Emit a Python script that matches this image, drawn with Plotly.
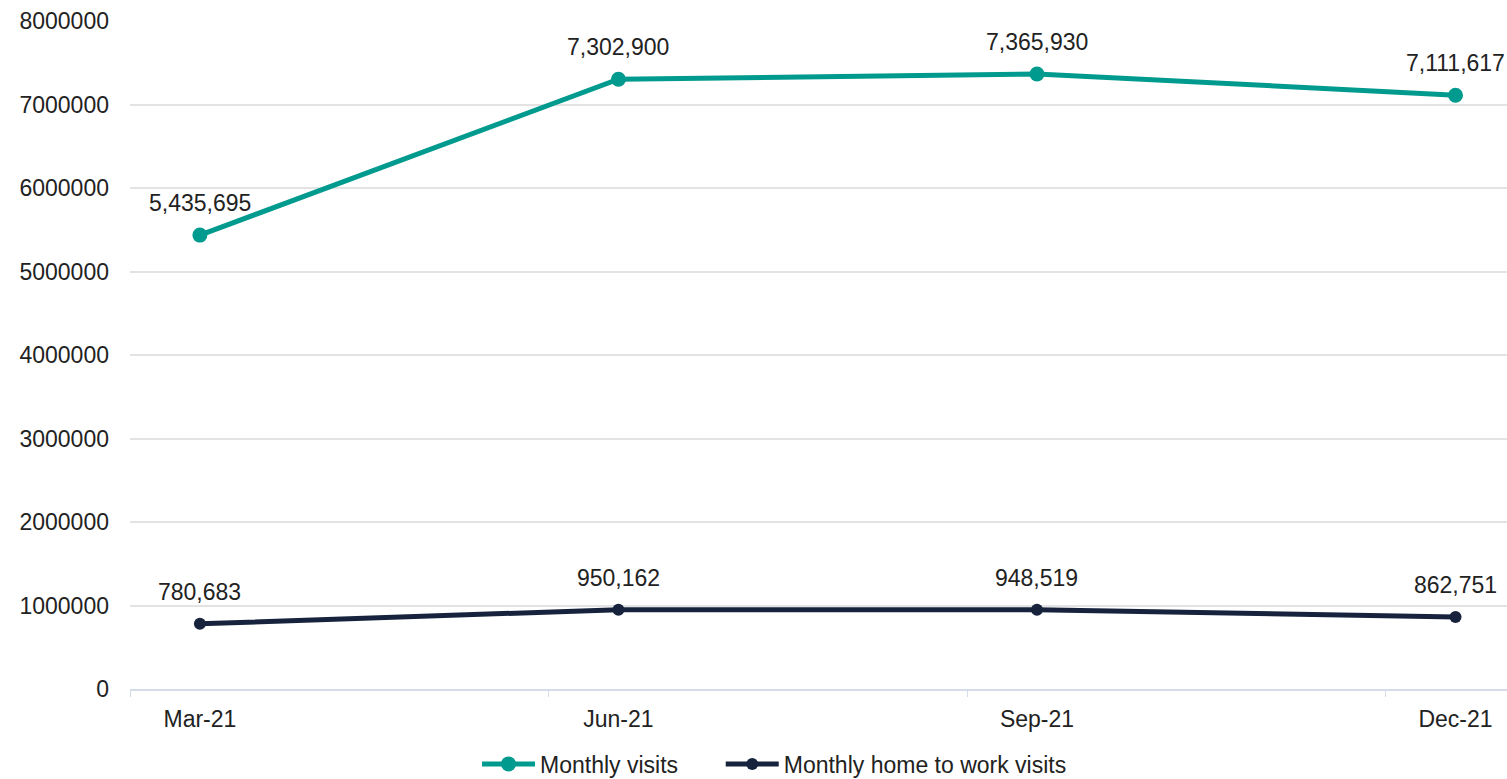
import plotly.graph_objects as go

categories = ["Mar-21", "Jun-21", "Sep-21", "Dec-21"]
monthly_visits = [5435695, 7302900, 7365930, 7111617]
home_to_work_visits = [780683, 950162, 948519, 862751]
y_ticks = [0, 1000000, 2000000, 3000000, 4000000, 5000000, 6000000, 7000000, 8000000]

x = list(range(len(categories)))
font = "Liberation Sans, Arial, sans-serif"
FS = 23

fig = go.Figure()
series = [
    ("Monthly visits", monthly_visits, "#009B8E", 15, "legend"),
    ("Monthly home to work visits", home_to_work_visits, "#17233D", 12, "legend2"),
]
for name, vals, color, msize, leg in series:
    fig.add_trace(go.Scatter(
        x=x, y=vals, name=name, mode="lines+markers", legend=leg,
        line=dict(color=color, width=5), marker=dict(size=msize, color=color),
    ))
    for xi, v in zip(x, vals):
        fig.add_annotation(x=xi, y=v, text=f"{v:,}", showarrow=False,
                           yshift=32, font=dict(size=FS, color="#222222", family=font))

legend_common = dict(orientation="h", xanchor="left", y=-0.08, yanchor="top",
                     font=dict(size=FS, color="#222222"), itemwidth=53,
                     bgcolor="rgba(0,0,0,0)")

fig.update_layout(
    width=1507, height=779,
    margin=dict(l=130, r=0, t=21, b=90, autoexpand=False),
    plot_bgcolor="white", paper_bgcolor="white",
    font=dict(family=font, size=FS, color="#222222"),
    showlegend=True,
    legend=dict(x=0.252, **legend_common),
    legend2=dict(x=0.429, **legend_common),
    xaxis=dict(
        range=[-0.167, 3.123], tickmode="array", tickvals=x, ticktext=categories,
        showgrid=False, zeroline=False, showline=True, linecolor="#D3DCE8", linewidth=2,
        ticks="", tickfont=dict(size=FS), ticklabelstandoff=8,
        minor=dict(tickmode="linear", tick0=-0.167, dtick=1, ticks="outside",
                   ticklen=6, tickcolor="#D3DCE8", tickwidth=1, showgrid=False),
    ),
    yaxis=dict(
        range=[0, 8000000], tickmode="array", tickvals=y_ticks,
        ticktext=[str(v) for v in y_ticks], showgrid=True, gridcolor="#E3E3E3",
        gridwidth=2, zeroline=False, showline=False, tickfont=dict(size=FS),
        ticklabelstandoff=20,
    ),
)

fig.write_html("out.html")
